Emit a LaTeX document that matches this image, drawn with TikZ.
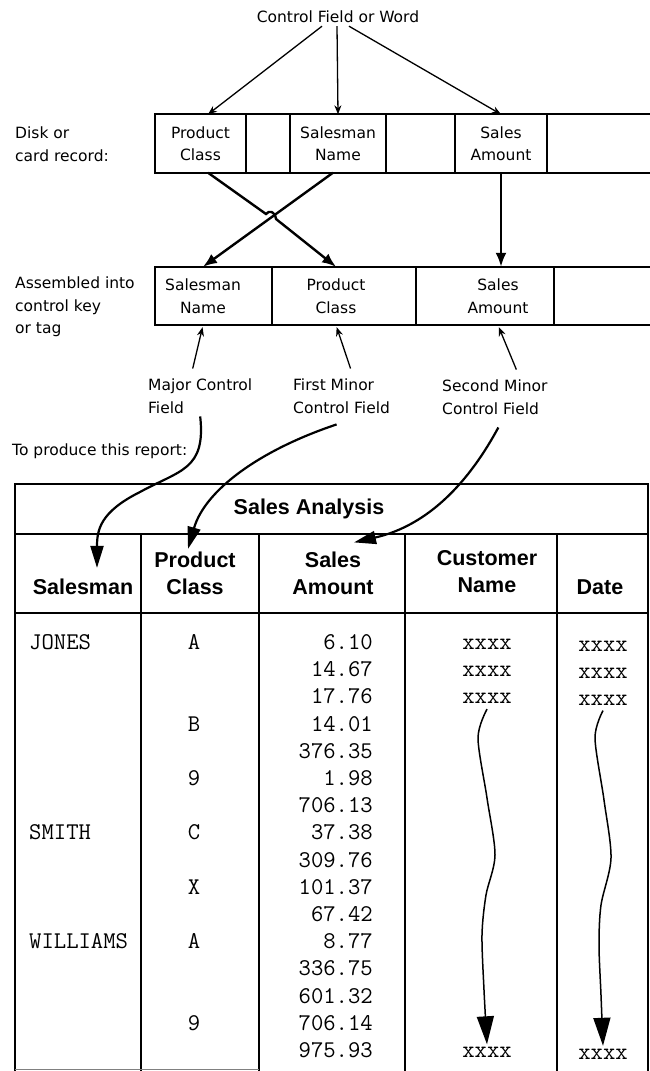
\documentclass[tikz,border=0pt]{standalone}
\usepackage{fontspec}
\usepackage{tikz}
\usetikzlibrary{positioning,arrows.meta}
\newfontfamily\labelfont{DejaVu Sans}
\newfontfamily\headfont{Liberation Sans}

\begin{document}
\begin{tikzpicture}[x=1pt, y=-1pt,
  lbl/.style={font=\labelfont\fontsize{15.5}{22.5}\selectfont, align=left, inner sep=3pt},
  cell/.style={font=\labelfont\fontsize{15.5}{22.5}\selectfont, align=center, minimum height=58pt, inner sep=0pt},
  head/.style={font=\headfont\bfseries\fontsize{21.5}{27}\selectfont, align=center, inner sep=3pt},
  data/.style={font=\ttfamily\fontsize{24}{27}\selectfont, inner sep=0pt, text height=13pt, text depth=0pt},
  rule/.style={line width=1.7pt},
  thinarrow/.style={line width=1.3pt, -{Stealth[length=9pt,width=7pt]}},
  bigarrow/.style={line width=2.4pt, -{Latex[length=14pt,width=11pt]}},
  curvearrow/.style={line width=2.2pt, -{Triangle[length=22pt,width=13pt]}},
  wavearrow/.style={line width=1.5pt, -{Triangle[length=28pt,width=17pt]}}]

  % Page frame
  \useasboundingbox (0,0) rectangle (650,1071);

  % Control field title
  \node[lbl] (cfw) at (338,17) {Control Field or Word};

  % Disk or card record
  \node[lbl, anchor=west] (diskLbl) at (12,144) {Disk or\\card record:};
  \draw[rule] (650,114) -| (155,173) -- (650,173);
  \foreach \x in {246,290,386,455,547}
    \draw[rule] (\x,114) -- (\x,173);
  \node[cell] (pcA) at (200.5,143.5) {Product\\Class};
  \node[cell] (smA) at (338,143.5) {Salesman\\Name};
  \node[cell] (saA) at (501,143.5) {Sales\\Amount};

  \draw[thinarrow] ([xshift=-16pt]cfw.south) -- ([xshift=7.5pt]pcA.north);
  \draw[thinarrow] ([xshift=-1pt]cfw.south) -- (smA.north);
  \draw[thinarrow] ([xshift=11pt]cfw.south) -- (saA.north);

  % Assembled control key
  \node[lbl, anchor=west] (asmLbl) at (12,307) {Assembled into\\control key\\or tag};
  \draw[rule] (650,267) -| (155,325) -- (650,325);
  \foreach \x in {272,416,554}
    \draw[rule] (\x,267) -- (\x,325);
  \node[cell] (smB) at (203,296) {Salesman\\Name};
  \node[cell] (pcB) at (336,296) {Product\\Class};
  \node[cell] (saB) at (498,296) {Sales\\Amount};

  % Crossing fields (with a hop)
  \draw[bigarrow] ([xshift=-5pt]smA.south) -- (smB.north);
  \draw[bigarrow] ([xshift=7.5pt]pcA.south) -- (266,214)
    .. controls (269,210) and (275,211) .. (276,219) -- (pcB.north);
  \draw[bigarrow] (saA.south) -- (saA.south |- saB.north);

  % Control field labels
  \node[lbl, anchor=west] (majorLbl) at (145,396) {Major Control\\Field};
  \node[lbl, anchor=west] (firstLbl) at (290,396) {First Minor\\Control Field};
  \node[lbl, anchor=west] (secondLbl) at (439,397) {Second Minor\\Control Field};
  \draw[thinarrow, shorten >=2pt] ([xshift=-7.5pt,yshift=7pt]majorLbl.north) -- (smB.south);
  \draw[thinarrow, shorten >=2pt] ([xshift=9pt,yshift=7pt]firstLbl.north) -- (pcB.south);
  \draw[thinarrow, shorten >=2pt] ([xshift=21.5pt,yshift=7pt]secondLbl.north) -- (saB.south);

  \node[lbl, anchor=west] (reportLbl) at (9,451) {To produce this report:};

  % Report table
  \draw[rule] (15,1071) -- (15,484) -- (648,484) -- (648,1071);
  \draw[rule] (15,534) -- (648,534);
  \draw[rule] (15,613) -- (648,613);
  \foreach \x in {141,259,405,557}
    \draw[rule] (\x,534) -- (\x,1071);
  \draw[line width=1pt, gray] (15,1069) -- (259,1069);

  \node[head] (title) at (309,509) {Sales Analysis};
  \node[head] (hSalesman) at (83,587) {Salesman};
  \node[head] (hProduct) at (195,573.5) {Product\\Class};
  \node[head] (hSales) at (333,573) {Sales\\Amount};
  \node[head] (hCustomer) at (487,572) {Customer\\Name};
  \node[head] (hDate) at (600,587) {Date};

  % Label to heading arrows
  \draw[curvearrow, shorten >=8pt] (majorLbl.south)
    .. controls (206,470) and (180,470) .. (140,492)
    .. controls (100,512) and (97,530) .. ([xshift=14pt]hSalesman.north);
  \draw[curvearrow] ([xshift=-5pt,yshift=-8pt]firstLbl.south)
    .. controls (260,450) and (205,490) .. ([xshift=-7pt]hProduct.north);
  \draw[curvearrow] ([xshift=3.5pt,yshift=-10pt]secondLbl.south)
    .. controls (470,480) and (430,525) .. ([xshift=21pt,yshift=6pt]hSales.north);

  % Report rows
  \foreach \r/\n in {1/JONES,8/SMITH,12/WILLIAMS}
    \node[data, anchor=west] (sm\r) at (29,{643+(\r-1)*27.2}) {\n};
  \foreach \r/\c in {1/A,4/B,6/9,8/C,10/X,12/A,15/9}
    \node[data] (pcl\r) at (194,{643+(\r-1)*27.2}) {\c};
  \foreach \amt [count=\i] in {6.10,14.67,17.76,14.01,376.35,1.98,706.13,37.38,
      309.76,101.37,67.42,8.77,336.75,601.32,706.14,975.93}
    \node[data, anchor=east] (amt\i) at (373,{643+(\i-1)*27.2}) {\amt};
  \foreach \r in {1,2,3,16}
    \node[data] (cust\r) at (487,{643+(\r-1)*27.2}) {xxxx};
  \foreach \r in {1,2,3,16}
    \node[data] (date\r) at (603,{644.5+(\r-1)*27.2}) {xxxx};

  % Wavy "and so on" arrows
  \draw[wavearrow] plot[smooth, tension=0.5] coordinates
    {([yshift=-5pt]cust3.south) (478,738) (487,798) (495,855) (486,895) (482,935) (484,990) (cust16.north)};
  \draw[wavearrow] plot[smooth, tension=0.5] coordinates
    {([yshift=-5pt]date3.south) (595,738) (604,800) (611,858) (601,905) (599,945) (601,995) (date16.north)};

\end{tikzpicture}
\end{document}
